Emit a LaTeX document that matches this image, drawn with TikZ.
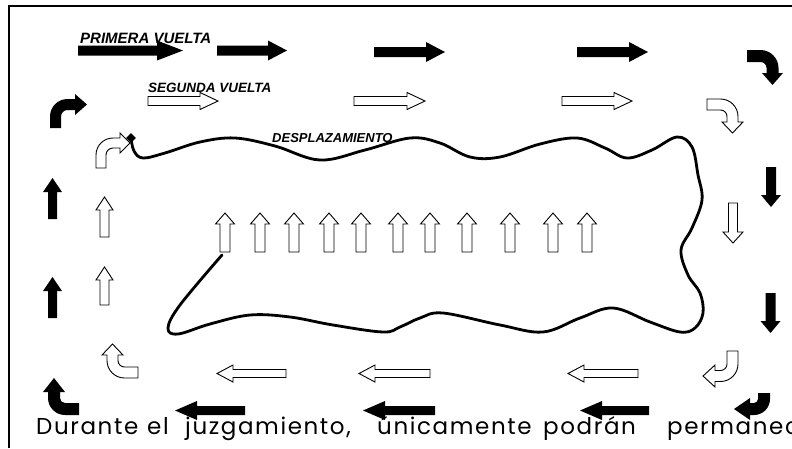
\documentclass[tikz,border=0pt]{standalone}
\usepackage{fontspec}
\newfontfamily\arialfont{Liberation Sans}
\newfontfamily\gothfont[LetterSpace=7]{Poppins}
\newcommand\wbox[2]{\makebox[#1pt][l]{#2\ }}
\tikzset{
  blk/.style={fill=black},
  hol/.style={draw=black, fill=white, line width=0.9pt},
  lbl/.style={font=\arialfont\bfseries\itshape, inner sep=0, anchor=base west},
  pics/straw/.style n args={4}{code={%
    \path[pic actions] (0,-#2) -- ({#1-#4},-#2) -- ({#1-#4},-#3) -- (#1,0)
      -- ({#1-#4},#3) -- ({#1-#4},#2) -- (0,#2) -- cycle;}},
  pics/bent/.style n args={6}{code={%
    \path[pic actions] (-#3,0) -- (-#3,-#1)
      arc[start angle=180, end angle=270, radius={#2+#3}]
      -- ++(#6,0) -- ++(0,{#3-#4}) -- ++(#5,#4) -- ++(-#5,#4) -- ++(0,{#3-#4})
      -- ++(-#6,0)
      arc[start angle=270, end angle=180, radius={#2-#3}]
      -- (#3,0) -- cycle;}},
}
\begin{document}
\begin{tikzpicture}[x=1pt,y=-1pt]
 \useasboundingbox (0,0) rectangle (792,448);
 \clip (0,0) rectangle (792,448);
 \draw[line width=1.2pt] (9,448) -- (9,6) -- (792,6);
 % primera vuelta
 \pic[blk] (p1) at (78,50.5) {straw={105}{5}{10}{26}};
 \pic[blk] (p2) at (217,50.5) {straw={70}{5}{10}{19}};
 \pic[blk] (p3) at (374,52) {straw={71}{5}{10}{19}};
 \pic[blk] (p4) at (577,52) {straw={71}{5}{10}{19}};
 \pic[blk,rotate=-90] (p5) at (747,56) {bent={13.5}{12}{6}{10.5}{12}{5}};
 \pic[blk,rotate=-90] (p6) at (771,167) {straw={40}{5}{10}{12}};
 \pic[blk,rotate=-90] (p7) at (770.5,293) {straw={40}{5}{10}{12}};
 \pic[blk,rotate=180] (p8) at (764,393) {bent={6}{10}{6}{11}{16}{4}};
 \pic[blk,rotate=180] (p9) at (649,410.5) {straw={69}{4.5}{9.5}{22}};
 \pic[blk,rotate=180] (p10) at (435,410.5) {straw={72}{4.5}{9.5}{22}};
 \pic[blk,rotate=180] (p11) at (245,410.5) {straw={70}{4.5}{9.5}{22}};
 \pic[blk,rotate=90] (p12) at (79,409) {bent={14}{11}{6}{11}{14}{6}};
 \pic[blk,rotate=90] (p13) at (52.5,318) {straw={41}{4.5}{9.5}{14}};
 \pic[blk,rotate=90] (p14) at (52.5,219) {straw={41}{4.5}{9.5}{14}};
 \pic[blk] (p15) at (55.5,128) {bent={11.5}{12}{5.5}{10.5}{12}{7.5}};
 % segunda vuelta
 \pic[hol] (s1) at (148,101) {straw={70}{4.5}{8.5}{18}};
 \pic[hol] (s2) at (354,101) {straw={71}{4.5}{8.5}{18}};
 \pic[hol] (s3) at (562,101) {straw={70}{4.5}{8.5}{18}};
 \pic[hol,rotate=-90] (s4) at (707,104.5) {bent={13.5}{12}{5.5}{10.5}{11}{5.5}};
 \pic[hol,rotate=-90] (s5) at (733,203) {straw={40}{4.5}{10}{11}};
 \pic[hol,rotate=180] (s6) at (732.5,351) {bent={13}{12}{5.5}{11}{12}{5.5}};
 \pic[hol,rotate=180] (s7) at (638,373.5) {straw={70}{4}{8.5}{16}};
 \pic[hol,rotate=180] (s8) at (430,373.5) {straw={71}{4}{8.5}{16}};
 \pic[hol,rotate=180] (s9) at (286,373.5) {straw={69}{4}{8.5}{16}};
 \pic[hol,rotate=90] (s10) at (138,372.5) {bent={13.5}{12}{5.5}{10.5}{11}{5.5}};
 \pic[hol,rotate=90] (s11) at (104.5,305) {straw={38}{4.5}{8.5}{13}};
 \pic[hol,rotate=90] (s12) at (104.5,237) {straw={40}{4.5}{8.5}{13}};
 \pic[hol] (s13) at (101,168) {bent={13}{12}{5}{10}{10}{7}};
 % desplazamiento
 \foreach \xc [count=\i] in {225,260,294,329,361,398,430,467,510,553,587}
   \pic[hol,rotate=90] (d\i) at (\xc,252) {straw={39}{5}{9.5}{11}};
 \draw[line width=2.8pt, line cap=round, line join=round] plot[smooth, tension=0.6] coordinates {
   (131,138) (134,151) (143,158) (165,153) (200,142) (235,138) (275,146) (320,160)
   (365,150) (410,138) (440,143) (470,157) (500,157) (540,144) (577,138) (605,148)
   (627,158) (652,150) (677,137) (692,147) (698,175) (702,200) (692,228) (681,250)
   (688,275) (700,293) (703,313) (695,328) (680,332) (650,322) (613,308) (580,318)
   (543,332) (500,325) (443,313) (420,318) (400,327) (383,332) (333,325) (290,317)
   (250,315) (210,324) (178,334) (168,328) (180,305) (222,255)};
 \fill[rotate around={45:(131,138)}] (127.5,134.5) rectangle (134.5,141.5);
 % textos
 \node[lbl, font=\arialfont\bfseries\itshape\fontsize{15}{18}\selectfont] (primera) at (80,43) {PRIMERA VUELTA};
 \node[lbl, font=\arialfont\bfseries\itshape\fontsize{13.5}{16}\selectfont] (segunda) at (148,92) {SEGUNDA VUELTA};
 \node[lbl, font=\arialfont\bfseries\itshape\fontsize{13}{16}\selectfont] (despl) at (272,142) {DESPLAZAMIENTO};
 \node[anchor=base west, inner sep=0, font=\gothfont\fontsize{23}{27}\selectfont] (nota) at (36,434)
   {\wbox{111}{Durante}\wbox{38}{el}\wbox{192}{juzgamiento,}\wbox{166}{únicamente}\wbox{124}{podrán}permanec};
\end{tikzpicture}
\end{document}
